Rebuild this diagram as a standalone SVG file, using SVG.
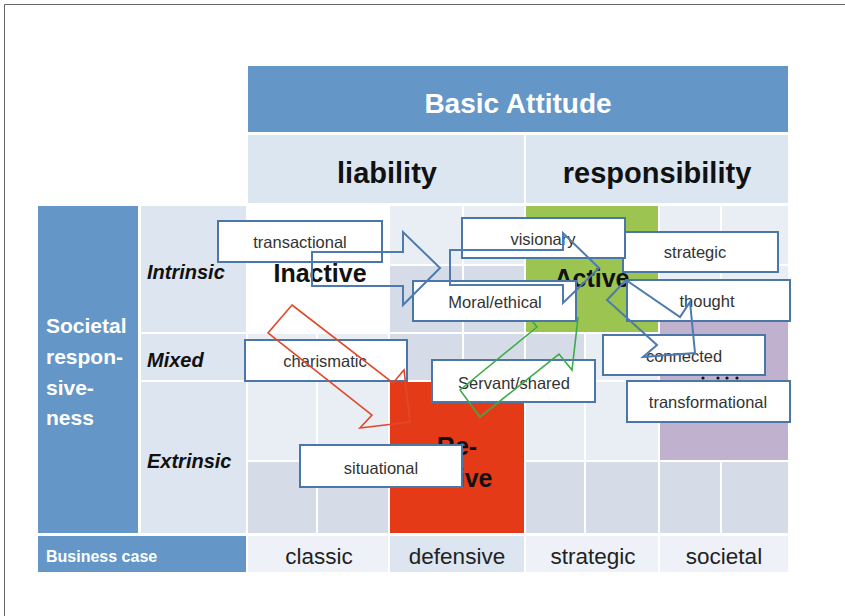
<svg xmlns="http://www.w3.org/2000/svg" width="845" height="616" viewBox="0 0 845 616">
<style>
text{font-family:"Liberation Sans",Arial,sans-serif}
.hdr{font-size:28px;font-weight:bold;fill:#fff}
.att{font-size:29px;font-weight:bold;fill:#111}
.big{font-size:25px;font-weight:bold;fill:#111}
.side{font-size:21px;font-weight:bold;fill:#fff}
.row{font-size:20px;font-weight:bold;font-style:italic;fill:#111}
.biz{font-size:16px;font-weight:bold;fill:#fff}
.bc{font-size:22.5px;fill:#222}
.lbl{font-size:16.5px;fill:#333}
.box{fill:#fff;stroke:#4A76A8;stroke-width:2}
.blue{fill:#6497C7}
.L{fill:#E9EEF5}
.D{fill:#D5DCE7}
.arB{fill:none;stroke:#4E7AAE;stroke-width:2;stroke-linejoin:miter}
.arR{fill:none;stroke:#E04A2A;stroke-width:1.6}
.arG{fill:none;stroke:#3DAA4A;stroke-width:1.6}
</style>
<rect x="0" y="0" width="845" height="616" fill="#fff"/>
<path d="M4.5 620 V4.5 H845" fill="none" stroke="#666" stroke-width="1"/>

<g id="header">
<rect class="blue" x="248" y="66" width="540" height="66"/>
<text class="hdr" x="518" y="113" text-anchor="middle">Basic Attitude</text>
<rect x="248" y="135" width="276" height="68" fill="#DCE6F1"/>
<rect x="526" y="135" width="262" height="68" fill="#DCE6F1"/>
<text class="att" x="387" y="183" text-anchor="middle">liability</text>
<text class="att" x="657" y="183" text-anchor="middle">responsibility</text>
</g>

<g id="side">
<rect class="blue" x="38" y="206" width="100" height="327"/>
<text class="side" x="46" y="333">Societal</text>
<text class="side" x="46" y="364">respon-</text>
<text class="side" x="46" y="395">sive-</text>
<text class="side" x="46" y="425">ness</text>
<rect x="141" y="206" width="105" height="126" fill="#DDE5F0"/>
<rect x="141" y="334" width="105" height="46" fill="#DDE5F0"/>
<rect x="141" y="382" width="105" height="151" fill="#DDE5F0"/>
<text class="row" x="147" y="279">Intrinsic</text>
<text class="row" x="147" y="367">Mixed</text>
<text class="row" x="147" y="468">Extrinsic</text>
</g>

<g id="grid">
<rect class="L" x="390" y="206" width="72" height="58"/>
<rect class="L" x="464" y="206" width="60" height="58"/>
<rect class="L" x="660" y="206" width="60" height="58"/>
<rect class="L" x="722" y="206" width="66" height="58"/>
<rect class="D" x="390" y="266" width="72" height="66"/>
<rect class="D" x="464" y="266" width="60" height="66"/>
<rect class="L" x="660" y="266" width="60" height="66"/>
<rect class="L" x="722" y="266" width="66" height="66"/>
<rect class="L" x="248" y="334" width="68" height="46"/>
<rect class="L" x="318" y="334" width="70" height="46"/>
<rect class="D" x="390" y="334" width="72" height="46"/>
<rect class="D" x="464" y="334" width="60" height="46"/>
<rect class="D" x="526" y="334" width="58" height="46"/>
<rect class="L" x="586" y="334" width="72" height="46"/>
<rect class="L" x="248" y="382" width="68" height="78"/>
<rect class="L" x="318" y="382" width="70" height="78"/>
<rect class="L" x="526" y="382" width="58" height="78"/>
<rect class="L" x="586" y="382" width="72" height="78"/>
<rect class="D" x="248" y="462" width="68" height="71"/>
<rect class="D" x="318" y="462" width="70" height="71"/>
<rect class="D" x="526" y="462" width="58" height="71"/>
<rect class="D" x="586" y="462" width="72" height="71"/>
<rect class="D" x="660" y="462" width="60" height="71"/>
<rect class="D" x="722" y="462" width="66" height="71"/>
</g>

<g id="inactive">
<rect x="248" y="206" width="140" height="126" fill="#fff"/>
<text class="big" x="320" y="282" text-anchor="middle">Inactive</text>
</g>
<g id="active">
<rect x="526" y="206" width="132" height="126" fill="#9BC550"/>
<text class="big" x="592" y="287" text-anchor="middle">Active</text>
</g>
<g id="reactive">
<rect x="390" y="382" width="134" height="151" fill="#E53A18"/>
<text class="big" x="457" y="455" text-anchor="middle">Re-</text>
<text class="big" x="457" y="487" text-anchor="middle">active</text>
</g>
<g id="proactive">
<rect x="660" y="322" width="128" height="138" fill="#C0B1CF"/>
<g fill="#111">
<circle cx="703" cy="378" r="1.6"/><circle cx="718" cy="378" r="1.6"/><circle cx="727" cy="378" r="1.6"/><circle cx="737" cy="378" r="1.6"/>
</g>
</g>

<g id="business">
<rect class="blue" x="38" y="536" width="208" height="36"/>
<text class="biz" x="46" y="562">Business case</text>
<rect x="248" y="536" width="140" height="36" fill="#EEF2F8"/>
<rect x="390" y="536" width="134" height="36" fill="#DCE5F0"/>
<rect x="526" y="536" width="132" height="36" fill="#EEF2F8"/>
<rect x="660" y="536" width="128" height="36" fill="#EEF2F8"/>
<text class="bc" x="319" y="564" text-anchor="middle">classic</text>
<text class="bc" x="457" y="564" text-anchor="middle">defensive</text>
<text class="bc" x="593" y="564" text-anchor="middle">strategic</text>
<text class="bc" x="724" y="564" text-anchor="middle">societal</text>
</g>

<g id="n-transactional"><rect class="box" x="218" y="221" width="164" height="41"/><text class="lbl" x="300" y="248" text-anchor="middle">transactional</text></g>
<g id="n-charismatic"><rect class="box" x="245" y="340" width="162" height="41"/><text class="lbl" x="325" y="367" text-anchor="middle">charismatic</text></g>
<g id="n-situational"><rect class="box" x="300" y="445" width="162" height="42"/><text class="lbl" x="381" y="474" text-anchor="middle">situational</text></g>
<g id="n-strategic"><rect class="box" x="623" y="232" width="155" height="40"/><text class="lbl" x="695" y="258" text-anchor="middle">strategic</text></g>
<g id="n-visionary"><rect class="box" x="462" y="218" width="163" height="40"/><text class="lbl" x="543" y="245" text-anchor="middle">visionary</text></g>
<g id="n-thought"><rect class="box" x="627" y="280" width="163" height="41"/><text class="lbl" x="707" y="307" text-anchor="middle">thought</text></g>
<g id="n-connected"><rect class="box" x="603" y="335" width="162" height="40"/><text class="lbl" x="684" y="362" text-anchor="middle">connected</text></g>
<g id="n-servant"><rect class="box" x="432" y="360" width="163" height="42"/><text class="lbl" x="514" y="389" text-anchor="middle">Servant/shared</text></g>
<g id="n-transformational"><rect class="box" x="627" y="381" width="163" height="41"/><text class="lbl" x="708" y="408" text-anchor="middle">transformational</text></g>

<g id="connectors">
<polygon class="arG" points="460,390 537,327 524,311 578,318 572,370 559,354 480,417"/>
</g>
<g id="n-moral"><rect class="box" x="413" y="281" width="163" height="40"/><text class="lbl" x="495" y="308" text-anchor="middle">Moral/ethical</text></g>
<g id="connectors2">
<polygon class="arB" points="312,252 403,252 403,232 440,268 403,305 403,286 312,286"/>
<polygon class="arB" points="450,250 563,250 563,233 599,268 563,303 563,285 450,285"/>
<polygon class="arB" points="626,280 680,317 690,302 695,353 643,357 657,345 607,300"/>
<polygon class="arR" points="292,305 393,383 404,370 410,422 360,428 372,415 268,333"/>
</g>
</svg>
